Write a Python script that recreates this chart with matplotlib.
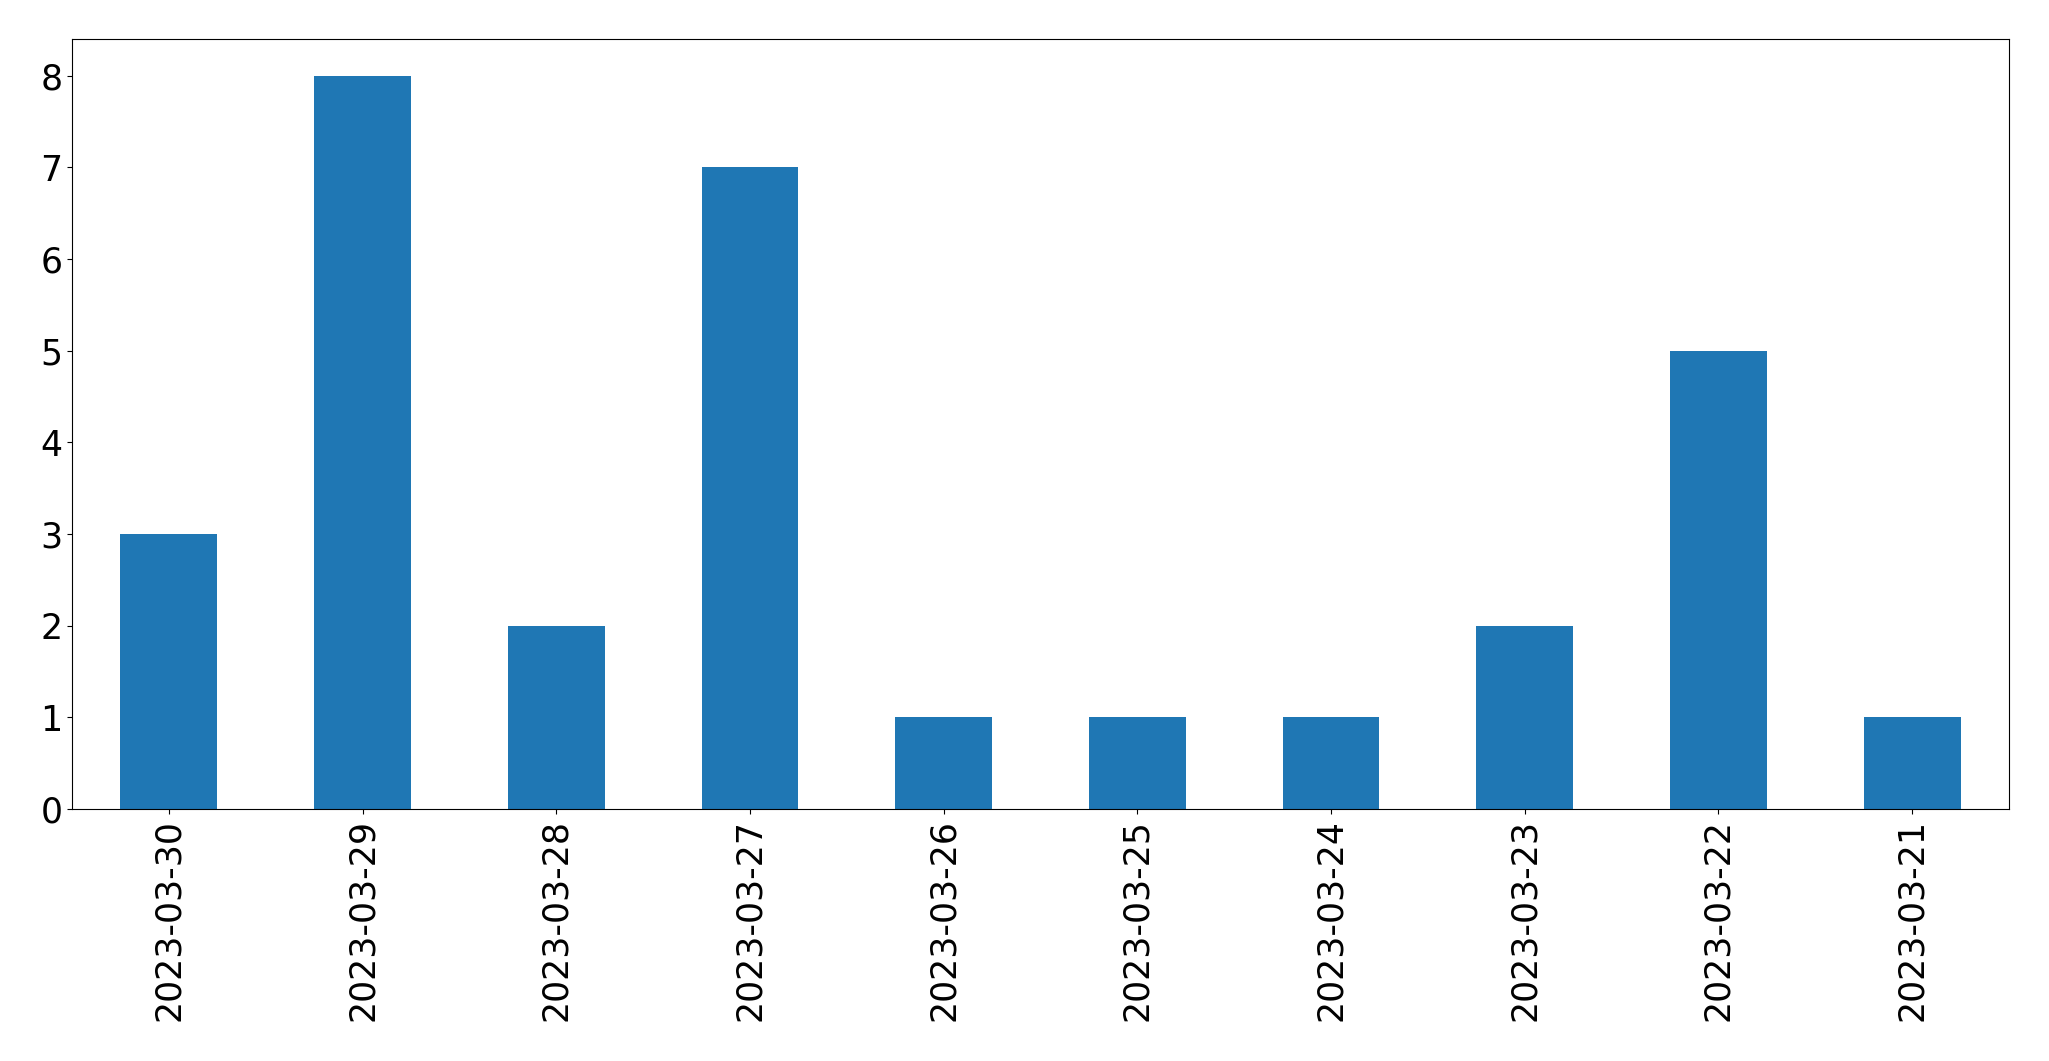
import matplotlib
matplotlib.use("Agg")
import matplotlib.pyplot as plt

dates = ["2023-03-30", "2023-03-29", "2023-03-28", "2023-03-27", "2023-03-26",
         "2023-03-25", "2023-03-24", "2023-03-23", "2023-03-22", "2023-03-21"]
counts = [3, 8, 2, 7, 1, 1, 1, 2, 5, 1]

W, H = 2049, 1061
fig = plt.figure(figsize=(W / 100, H / 100), dpi=100)
ax = fig.add_axes([72 / W, (H - 809) / H, 1937 / W, 770 / H])
x = list(range(len(dates)))
ax.bar(x, counts, width=0.5, color="#1f77b4")
ax.set_xlim(-0.5, len(dates) - 0.5)
ax.set_ylim(0, max(counts) * 1.05)
ax.set_xticks(x)
ax.set_xticklabels(dates, rotation=90)
ax.tick_params(axis="both", labelsize=25)
fig.savefig("out.png", dpi=100)
